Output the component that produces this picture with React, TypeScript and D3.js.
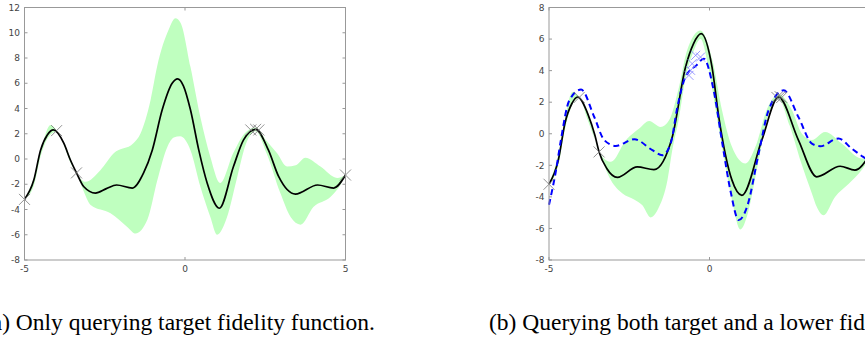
import * as d3 from 'd3';

type Pt = [number, number];

// (a) target-only posterior
const leftMean: Pt[] = [
  [-5, -3.2], [-4.71, -1.67], [-4.5, 0.7], [-4.29, 1.9], [-4.1, 2.3], [-3.78, 1.27], [-3.57, -0.08],
  [-3.38, -1.1], [-3.15, -2.2], [-2.79, -2.7], [-2.45, -2.35], [-2.13, -2.06], [-1.64, -2.3],
  [-1.29, -1.1], [-1.02, 0.7], [-0.71, 3.9], [-0.4, 6.0], [-0.23, 6.35], [-0.05, 5.8], [0.17, 3.9],
  [0.43, 0.7], [0.69, -1.9], [1.07, -3.9], [1.51, -0.6], [1.82, 1.5], [2.2, 2.35], [2.6, 0.7],
  [2.92, -1.4], [3.44, -2.78], [4.13, -2.06], [4.63, -2.3], [5, -1.27],
];
const leftUpper: Pt[] = [
  [-5, -3.2], [-4.7, -1.4], [-4.45, 1.1], [-4.19, 2.7], [-4.0, 2.28], [-3.7, 0.9], [-3.38, -1.1],
  [-3.1, -1.8], [-2.63, -0.87], [-2.22, 0.45], [-1.6, 1.27], [-1.39, 2.0], [-1.07, 4.7], [-0.87, 7.3],
  [-0.5, 10.3], [-0.3, 11.15], [-0.14, 10.8], [0.17, 7.3], [0.48, 3.3], [0.79, 0.16], [1.1, -1.9],
  [1.5, 0.45], [1.85, 2.0], [2.2, 2.5], [2.55, 1.4], [2.87, 0.45], [3.18, -0.6], [3.45, -0.5],
  [3.75, 0.1], [4.22, -0.6], [4.74, -1.5], [5, -1.27],
];
const leftLower: Pt[] = [
  [-5, -3.2], [-4.71, -2.1], [-4.5, 0.2], [-4.29, 1.6], [-4.1, 2.1], [-4.0, 2.22], [-3.75, 0.95],
  [-3.55, -0.4], [-3.38, -1.1], [-3.15, -2.6], [-2.94, -3.65], [-2.32, -4.3], [-1.79, -5.4],
  [-1.54, -5.9], [-1.17, -4.8], [-0.86, -1.67], [-0.55, 0.95], [-0.35, 1.7], [-0.15, 1.8], [0.17, 0.7],
  [0.48, -2.2], [0.79, -4.6], [1.0, -6.0], [1.31, -4.6], [1.63, -1.4], [1.9, 1.2], [2.2, 2.2],
  [2.55, 0.4], [2.97, -2.7], [3.29, -4.6], [3.6, -5.2], [4.0, -3.8], [4.53, -3.0], [4.84, -2.06],
  [5, -1.27],
];
const leftObs: Pt[] = [[-5, -3.2], [-4.0, 2.25], [-3.38, -1.1], [2.05, 2.3], [2.2, 2.35], [2.3, 2.3], [5, -1.27]];

// (b) multi-fidelity posterior
const rightMean: Pt[] = [
  [-5, -3.2], [-4.71, -1.67], [-4.5, 0.7], [-4.29, 1.9], [-4.11, 2.33], [-3.78, 1.2], [-3.57, -0.1],
  [-3.44, -1.15], [-3.2, -2.2], [-2.87, -2.77], [-2.25, -2.1], [-1.73, -2.27], [-1.16, -0.2],
  [-0.75, 4.2], [-0.5, 5.7], [-0.26, 6.34], [0.08, 4.2], [0.29, 1.06], [0.7, -2.94], [1.01, -3.9],
  [1.63, -0.4], [2.15, 2.33], [2.77, -0.4], [3.34, -2.73], [4.07, -2.06], [4.53, -2.3], [5, -1.3],
];
const rightUpper: Pt[] = [
  [-5, -3.2], [-4.71, -1.3], [-4.5, 1.0], [-4.27, 2.65], [-4.06, 2.36], [-3.8, 1.4], [-3.44, -1.15],
  [-3.07, -1.78], [-2.6, -0.4], [-2.19, 0.33], [-1.88, 0.81], [-1.52, 0.43], [-1.26, 0.85],
  [-0.95, 2.96], [-0.7, 5.28], [-0.28, 6.55], [0.1, 4.6], [0.39, 1.49], [0.7, -0.83], [1.12, -1.89],
  [1.43, -0.83], [1.8, 1.6], [2.15, 2.5], [2.57, 1.49], [2.88, 0.0], [3.19, -0.4], [3.6, 0.11],
  [4.12, -0.62], [4.74, -1.57], [5, -1.5],
];
const rightLower: Pt[] = [
  [-5, -3.2], [-4.71, -2.0], [-4.5, 0.3], [-4.27, 1.85], [-4.06, 2.28], [-3.8, 0.9], [-3.57, -0.4],
  [-3.44, -1.15], [-3.07, -2.94], [-2.71, -3.78], [-2.35, -4.16], [-2.09, -4.53], [-1.83, -5.3],
  [-1.57, -4.63], [-1.31, -2.94], [-1.16, -1.04], [-0.95, 1.0], [-0.75, 3.5], [-0.5, 5.2],
  [-0.28, 6.0], [-0.05, 4.4], [0.2, 1.4], [0.45, -1.5], [0.7, -4.2], [0.96, -6.06], [1.2, -5.0],
  [1.5, -2.0], [1.8, 1.0], [2.15, 2.2], [2.5, 0.5], [2.85, -1.8], [3.19, -3.78], [3.34, -4.63],
  [3.55, -5.16], [3.91, -4.0], [4.33, -3.18], [4.74, -2.3], [5, -1.5],
];
const rightLowFid: Pt[] = [
  [-5, -4.5], [-4.78, -2.3], [-4.63, -0.4], [-4.37, 2.1], [-4.0, 2.8], [-3.59, 1.06], [-3.28, -0.4],
  [-2.92, -0.77], [-2.34, -0.35], [-1.78, -1.04], [-1.47, -1.36], [-1.21, -0.62], [-1.0, 1.7],
  [-0.75, 3.6], [-0.4, 4.35], [-0.18, 4.76], [0.13, 2.75], [0.4, -0.62], [0.65, -3.58], [0.91, -5.47],
  [1.17, -4.63], [1.53, -1.26], [1.84, 1.49], [2.31, 2.75], [2.77, 1.06], [3.19, -0.62], [3.45, -0.79],
  [4.02, -0.3], [4.43, -0.94], [4.79, -1.47], [5, -1.75],
];
const rightObs: Pt[] = [[-5, -3.2], [-4.06, 2.3], [-3.44, -1.15], [2.1, 2.3], [2.2, 2.35], [2.25, 2.3]];
const rightLowObs: Pt[] = [[-0.64, 3.7], [-0.59, 4.02], [-0.54, 4.44], [-0.43, 4.97], [-0.28, 4.86]];

const xTicks = [-5, 0, 5];
const leftYTicks = [-8, -6, -4, -2, 0, 2, 4, 6, 8, 10, 12];
const rightYTicks = [-8, -6, -4, -2, 0, 2, 4, 6, 8];

const captionA = '(a) Only querying target fidelity function.';
const captionB = '(b) Querying both target and a lower fidelity function.';

const W = 865;
const H = 337;
const top = 7.5;
const bottom = 260;
const plotW = 321;

function Panel({
  left, yDomain, yTicks, mean, upper, lower, obs, lowFid, lowObs,
}: {
  left: number; yDomain: [number, number]; yTicks: number[]; mean: Pt[]; upper: Pt[]; lower: Pt[];
  obs: Pt[]; lowFid?: Pt[]; lowObs?: Pt[];
}) {
  const x = d3.scaleLinear().domain([-5, 5]).range([left, left + plotW]);
  const y = d3.scaleLinear().domain(yDomain).range([bottom, top]);
  const line = d3.line<Pt>().x((d) => x(d[0])).y((d) => y(d[1])).curve(d3.curveMonotoneX);
  const up = line(upper) ?? '';
  const lo = line(lower.slice().reverse()) ?? '';
  const band = up + 'L' + lo.slice(1) + 'Z';
  const cross = (d: Pt, s: number) => {
    const cx = x(d[0]);
    const cy = y(d[1]);
    return `M${cx - s},${cy - s}L${cx + s},${cy + s}M${cx - s},${cy + s}L${cx + s},${cy - s}`;
  };
  return (
    <g>
      <path d={band} fill="#bfffbf" />
      <path d={line(mean) ?? ''} fill="none" stroke="#000" strokeWidth={1.7} />
      {lowFid && (
        <path d={line(lowFid) ?? ''} fill="none" stroke="#0000ff" strokeWidth={2} strokeDasharray="6 4" />
      )}
      {obs.map((d, i) => (
        <path key={i} d={cross(d, 5.5)} stroke="#777" strokeWidth={0.8} fill="none" />
      ))}
      {lowObs?.map((d, i) => (
        <path key={`b${i}`} d={cross(d, 4.5)} stroke="#8080ff" strokeWidth={0.8} fill="none" />
      ))}
      <rect x={left} y={top} width={plotW} height={bottom - top} fill="none" stroke="#999" strokeWidth={1} />
      {yTicks.map((t) => (
        <g key={t}>
          <line x1={left} x2={left + 3} y1={y(t)} y2={y(t)} stroke="#999" />
          <line x1={left + plotW - 3} x2={left + plotW} y1={y(t)} y2={y(t)} stroke="#999" />
          <text x={left - 4.5} y={y(t) + 3.2} textAnchor="end" fontSize={9} fill="#444" fontFamily="DejaVu Sans">
            {t}
          </text>
        </g>
      ))}
      {xTicks.map((t) => (
        <g key={`x${t}`}>
          <line x1={x(t)} x2={x(t)} y1={bottom} y2={bottom - 3} stroke="#999" />
          <line x1={x(t)} x2={x(t)} y1={top} y2={top + 3} stroke="#999" />
          <text x={x(t)} y={bottom + 12} textAnchor="middle" fontSize={9} fill="#444" fontFamily="DejaVu Sans">
            {t}
          </text>
        </g>
      ))}
    </g>
  );
}

export default function App() {
  return (
    <svg width={W} height={H} style={{ position: 'absolute', left: 0, top: 0, background: '#fff' }}>
      <Panel left={24.5} yDomain={[-8, 12]} yTicks={leftYTicks} mean={leftMean} upper={leftUpper}
        lower={leftLower} obs={leftObs} />
      <Panel left={549} yDomain={[-8, 8]} yTicks={rightYTicks} mean={rightMean} upper={rightUpper}
        lower={rightLower} obs={rightObs} lowFid={rightLowFid} lowObs={rightLowObs} />
      <text x={375} y={330} textAnchor="end" fontSize={23.5} fontFamily="Liberation Serif" fill="#000">
        {captionA}
      </text>
      <text x={489} y={330} fontSize={23.5} fontFamily="Liberation Serif" fill="#000">
        {captionB}
      </text>
    </svg>
  );
}
